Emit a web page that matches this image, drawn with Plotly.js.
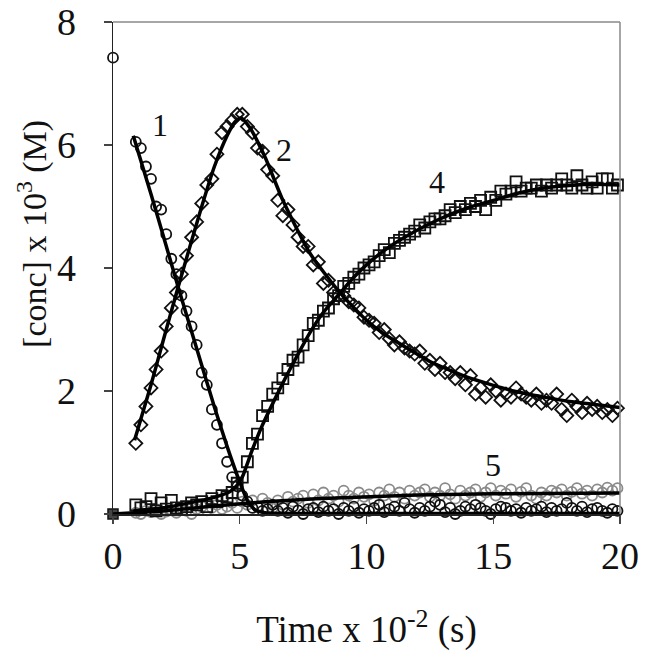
<!DOCTYPE html>
<html>
<head>
<meta charset="utf-8">
<script src="https://cdn.plot.ly/plotly-3.0.1.min.js"></script>
<style>html,body{margin:0;padding:0;background:#fff}#chart{width:648px;height:657px}</style>
</head>
<body>
<div id="chart"></div>
<script>
// sample times (x 10^-2 s)
const times = [0.9,1.1,1.3,1.5,1.7,1.9,2.1,2.3,2.5,2.7,2.9,3.1,3.3,3.5,3.7,3.9,4.1,4.3,4.5,4.7,4.9,5.1,5.3,5.5,5.7,5.9,6.1,6.3,6.5,6.7,6.9,7.1,7.3,7.5,7.7,7.9,8.1,8.3,8.5,8.7,8.9,9.1,9.3,9.5,9.7,9.9,10.1,10.3,10.5,10.7,10.9,11.1,11.3,11.5,11.7,11.9,12.1,12.3,12.5,12.7,12.9,13.1,13.3,13.5,13.7,13.9,14.1,14.3,14.5,14.7,14.9,15.1,15.3,15.5,15.7,15.9,16.1,16.3,16.5,16.7,16.9,17.1,17.3,17.5,17.7,17.9,18.1,18.3,18.5,18.7,18.9,19.1,19.3,19.5,19.7,19.9];

// species 1 (open circles)
const conc1 = [6.05,5.95,5.65,5.45,5.0,4.95,4.55,4.15,3.9,3.55,3.3,3.05,2.75,2.3,2.1,1.7,1.45,1.15,0.85,0.6,0.45,0.3,0.2,0.1,0.12,0.05,0.08,0.15,0.05,0.1,0.02,0.12,0.06,0.0,0.08,0.1,0.03,0.12,0.05,0.08,0.0,0.1,0.05,0.12,0.02,0.08,0.05,0.1,0.15,0.03,0.08,0.12,0.05,0.18,0.08,0.02,0.1,0.05,0.12,0.2,0.15,0.03,0.1,0.0,0.05,0.12,0.08,0.15,0.1,0.05,0.0,0.08,0.12,0.1,0.05,0.08,0.02,0.1,0.05,0.08,0.12,0.03,0.1,0.05,0.08,0.18,0.1,0.05,0.12,0.03,0.08,0.1,0.05,0.02,0.08,0.05];
// species 2 (open diamonds)
const conc2 = [1.15,1.45,1.75,2.05,2.35,2.65,3.05,3.35,3.6,3.9,4.2,4.5,4.75,5.05,5.35,5.45,5.85,6.2,6.3,6.4,6.5,6.5,6.3,6.2,5.95,5.9,5.6,5.5,5.1,4.85,4.95,4.7,4.5,4.35,4.35,4.05,4.1,3.75,3.8,3.6,3.55,3.55,3.45,3.4,3.35,3.2,3.15,3.1,2.95,3.0,2.85,2.75,2.8,2.7,2.65,2.6,2.65,2.45,2.5,2.35,2.45,2.3,2.3,2.2,2.3,2.1,2.25,1.95,2.05,1.9,2.1,2.0,1.85,1.95,1.9,2.05,1.95,1.9,1.85,1.95,1.8,1.85,1.8,1.95,1.7,1.6,1.85,1.75,1.65,1.8,1.7,1.75,1.65,1.7,1.6,1.72];
// species 4 (open squares)
const conc4 = [0.15,0.1,0.12,0.25,0.05,0.18,0.08,0.22,0.1,0.08,0.12,0.18,0.15,0.2,0.12,0.25,0.2,0.3,0.28,0.35,0.5,0.6,0.85,1.15,1.3,1.6,1.75,1.95,2.05,2.2,2.35,2.5,2.55,2.75,2.9,3.1,3.15,3.3,3.35,3.5,3.55,3.7,3.75,3.85,3.9,4.0,4.05,4.1,4.2,4.3,4.25,4.4,4.45,4.5,4.55,4.6,4.7,4.65,4.75,4.8,4.8,4.85,4.95,4.9,5.0,4.95,5.05,5.0,5.1,4.95,5.15,5.1,5.25,5.2,5.25,5.4,5.25,5.3,5.3,5.35,5.25,5.35,5.3,5.35,5.45,5.35,5.3,5.5,5.35,5.3,5.4,5.3,5.45,5.45,5.3,5.35];
// species 5 (grey circles)
const conc5 = [0.02,0.0,0.05,0.03,0.08,0.0,0.04,0.06,0.02,0.1,0.05,0.0,0.08,0.12,0.06,0.1,0.15,0.08,0.12,0.18,0.1,0.2,0.15,0.22,0.12,0.25,0.18,0.1,0.22,0.15,0.28,0.2,0.25,0.3,0.18,0.32,0.22,0.35,0.25,0.3,0.2,0.38,0.3,0.25,0.35,0.28,0.32,0.22,0.35,0.3,0.4,0.28,0.35,0.25,0.38,0.3,0.35,0.4,0.28,0.35,0.3,0.42,0.32,0.25,0.38,0.3,0.35,0.4,0.28,0.35,0.42,0.3,0.38,0.33,0.4,0.28,0.36,0.42,0.3,0.25,0.35,0.3,0.38,0.35,0.4,0.3,0.36,0.42,0.33,0.38,0.3,0.4,0.35,0.43,0.38,0.42];

// initial points at t = 0
const t0 = [0];
const init1 = [7.42];
const init4 = [0];

// fitted model curves
const fitT1 = [0.8,1.5,2.0,2.57,3.0,3.5,4.0,4.5,5.0,5.3,5.6,6.0,8,12,16,20];
const fit1  = [6.15,5.2,4.5,3.69,3.1,2.42,1.74,1.1,0.52,0.22,0.07,0.02,0.01,0.01,0.01,0.01];
const fitT2 = [0.85,1.5,2.0,2.57,3.0,3.5,4.0,4.5,4.8,5.05,5.4,6.0,6.7,7.77,8.95,10.0,10.65,12.0,12.5,14.0,15.8,17.0,18.0,19.0,20.0];
const fit2  = [1.2,2.1,2.85,3.69,4.3,5.0,5.65,6.15,6.37,6.44,6.28,5.8,5.1,4.24,3.6,3.15,2.94,2.6,2.48,2.22,2.0,1.9,1.83,1.78,1.73];
const fitT4 = [0.8,2.0,3.0,4.0,4.6,4.9,5.1,5.5,5.9,6.4,6.86,7.3,7.77,8.3,8.95,9.5,10.0,10.65,11.5,12.8,14.0,15.0,16.0,17.0,18.0,19.0,20.0];
const fit4  = [0.05,0.1,0.18,0.27,0.36,0.47,0.6,1.05,1.45,1.88,2.26,2.6,2.95,3.28,3.59,3.85,4.05,4.27,4.5,4.78,4.98,5.1,5.22,5.3,5.34,5.36,5.35];
const fitT5 = [0,2,4,6,8,10,12,15,20];
const fit5  = [0,0.05,0.13,0.2,0.25,0.28,0.31,0.33,0.34];

const labelText = ['1','2','4','5'];
const labelX = [1.85,6.75,12.8,15.0];
const labelY = [6.33,5.92,5.4,0.8];

const FONT = 'Liberation Serif, Times New Roman, serif';
const mk = (sym, size, col) => ({symbol: sym, size: size, color: col, line: {color: col, width: 1.8}});

const traces = [
  {x: times, y: conc5, mode: 'markers', marker: mk('circle-open', 10, '#8a8a8a'), cliponaxis: false},
  {x: times, y: conc4, mode: 'markers', marker: mk('square-open', 11, '#111'), cliponaxis: false},
  {x: times, y: conc2, mode: 'markers', marker: mk('diamond-open', 10, '#111'), cliponaxis: false},
  {x: times, y: conc1, mode: 'markers', marker: mk('circle-open', 10, '#111'), cliponaxis: false},
  {x: t0, y: init1, mode: 'markers', marker: mk('circle-open', 10, '#111'), cliponaxis: false},
  {x: t0, y: init4, mode: 'markers', marker: {symbol: 'square', size: 10, color: '#444', line: {color: '#111', width: 1.5}}, cliponaxis: false},
  {x: fitT5, y: fit5, mode: 'lines', line: {color: '#000', width: 3.5}},
  {x: fitT1, y: fit1, mode: 'lines', line: {color: '#000', width: 3.5, shape: 'spline', smoothing: 0.6}},
  {x: fitT2, y: fit2, mode: 'lines', line: {color: '#000', width: 3.5, shape: 'spline', smoothing: 0.6}},
  {x: fitT4, y: fit4, mode: 'lines', line: {color: '#000', width: 3.5, shape: 'spline', smoothing: 0.6}}
];

const curveLabels = labelText.map((t, i) => ({
  text: t, x: labelX[i], y: labelY[i], xref: 'x', yref: 'y', showarrow: false,
  xanchor: 'center', yanchor: 'middle', font: {family: FONT, size: 32, color: '#111'}
}));

const layout = {
  width: 648, height: 657,
  margin: {l: 113, r: 28, t: 22, b: 143},
  paper_bgcolor: '#fff', plot_bgcolor: '#fff',
  showlegend: false,
  font: {family: FONT, color: '#111', size: 36},
  xaxis: {
    range: [0, 20], tickvals: [0,5,10,15,20], ticktext: ['0','5','10','15','20'],
    showgrid: false, zeroline: false, showline: true, linecolor: '#222', linewidth: 1.5,
    ticks: 'outside', ticklen: 8, tickwidth: 1.2, tickcolor: '#444',
    tickfont: {family: FONT, size: 38, color: '#111'},
    title: {text: 'Time x 10<sup>-2</sup> (s)', font: {family: FONT, size: 37, color: '#111'}, standoff: 40}
  },
  yaxis: {
    range: [0, 8], tickvals: [0,2,4,6,8], ticktext: ['0','2','4','6','8'],
    showgrid: false, zeroline: false, showline: true, linecolor: '#222', linewidth: 1.5,
    ticks: 'outside', ticklen: 8, tickwidth: 1.2, tickcolor: '#444', ticklabelstandoff: 20,
    tickfont: {family: FONT, size: 38, color: '#111'}
  },
  annotations: [
    {text: '[conc] x 10<sup>3</sup> (M)', xref: 'paper', yref: 'paper', x: -0.16, y: 0.569,
     xanchor: 'center', yanchor: 'middle', textangle: -90, showarrow: false,
     font: {family: FONT, size: 34, color: '#111'}}
  ].concat(curveLabels),
  shapes: [
    {type: 'line', xref: 'paper', yref: 'paper', x0: 0, x1: 1, y0: 1, y1: 1, line: {color: '#888', width: 1.5}},
    {type: 'line', xref: 'paper', yref: 'paper', x0: 1, x1: 1, y0: 0, y1: 1, line: {color: '#888', width: 1.5}}
  ]
};

Plotly.newPlot('chart', traces, layout, {displayModeBar: false, staticPlot: true});
</script>
</body>
</html>
